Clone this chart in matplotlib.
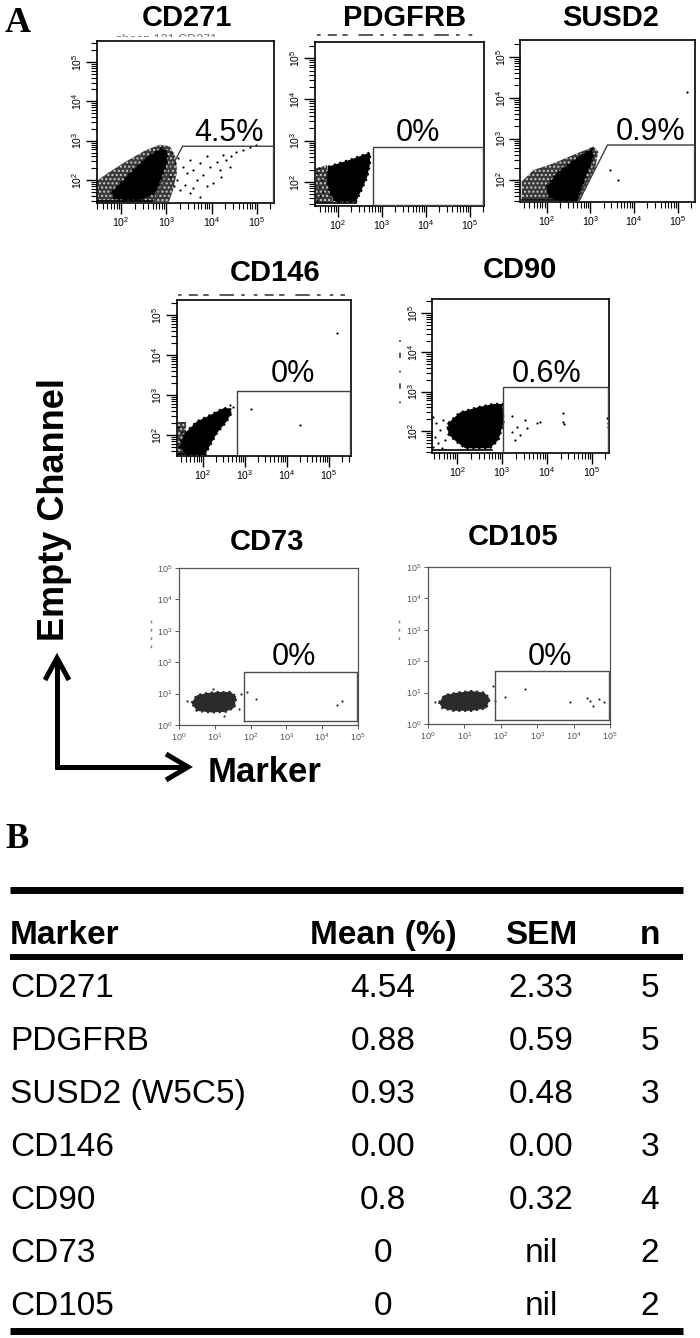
import numpy as np
import matplotlib
matplotlib.use("Agg")
import matplotlib.pyplot as plt
from matplotlib.lines import Line2D
from matplotlib.transforms import Bbox, TransformedBbox

# ---- panel A: markers and gated percentages ----
markers = ["CD271", "PDGFRB", "SUSD2", "CD146", "CD90", "CD73", "CD105"]
gated_pct = ["4.5%", "0%", "0.9%", "0%", "0.6%", "0%", "0%"]

# all event coordinates below are log10(marker), log10(empty channel)
# dense event cores (outline of the black cloud)
cd271_core_x = [1.80, 2.02, 2.27, 2.60, 2.90, 3.02, 3.01, 2.90, 2.75, 2.42, 2.13, 1.85]
cd271_core_y = [1.70, 1.95, 2.26, 2.60, 2.81, 2.72, 2.43, 2.09, 1.67, 1.50, 1.50, 1.52]
pdgfrb_core_x = [1.78, 2.01, 2.31, 2.58, 2.73, 2.73, 2.67, 2.54, 2.41, 1.94, 1.82, 1.75]
pdgfrb_core_y = [2.37, 2.45, 2.55, 2.66, 2.71, 2.45, 2.13, 1.81, 1.52, 1.52, 1.73, 2.05]
susd2_core_x = [2.00, 2.23, 2.53, 2.80, 3.03, 3.07, 2.95, 2.80, 2.69, 2.30, 2.04]
susd2_core_y = [1.83, 2.16, 2.40, 2.61, 2.75, 2.57, 2.24, 1.83, 1.49, 1.49, 1.59]
cd146_core_x = [1.57, 1.85, 2.17, 2.48, 2.64, 2.68, 2.56, 2.33, 2.17, 2.05, 1.61, 1.45]
cd146_core_y = [2.05, 2.34, 2.50, 2.67, 2.67, 2.55, 2.34, 2.05, 1.75, 1.51, 1.51, 1.71]
cd90_core_x = [1.80, 2.06, 2.44, 2.81, 3.01, 3.03, 2.92, 2.73, 2.18, 1.98, 1.80]
cd90_core_y = [2.20, 2.47, 2.60, 2.69, 2.69, 2.20, 1.77, 1.56, 1.56, 1.73, 1.92]
cd73_core_x = [0.35, 0.50, 0.80, 1.10, 1.45, 1.60, 1.55, 1.30, 0.90, 0.50]
cd73_core_y = [0.70, 0.95, 1.02, 1.05, 1.05, 0.90, 0.55, 0.42, 0.40, 0.45]
cd105_core_x = [0.30, 0.45, 0.80, 1.20, 1.55, 1.70, 1.60, 1.20, 0.70, 0.40]
cd105_core_y = [0.68, 0.92, 1.00, 1.05, 1.00, 0.80, 0.50, 0.42, 0.42, 0.50]

# looser speckled halo round the cores
cd271_fringe_x = [1.49, 1.49, 1.71, 2.09, 2.53, 2.86, 3.08, 3.20, 3.24, 3.15, 3.06]
cd271_fringe_y = [1.45, 2.00, 2.18, 2.46, 2.75, 2.90, 2.86, 2.60, 2.22, 1.75, 1.45]
pdgfrb_fringe_x = [1.50, 1.75, 1.90, 1.50]
pdgfrb_fringe_y = [2.33, 2.41, 1.50, 1.50]
susd2_fringe_x = [1.43, 1.43, 1.70, 2.15, 2.61, 3.07, 3.18, 3.10, 2.76]
susd2_fringe_y = [1.51, 1.96, 2.24, 2.40, 2.61, 2.81, 2.69, 2.24, 1.49]
cd146_fringe_x = [1.41, 1.60, 1.60, 1.41]
cd146_fringe_y = [2.34, 2.34, 1.51, 1.51]

# single scattered events
cd271_dots_x = [3.12, 3.19, 3.27, 3.38, 3.45, 3.52, 3.60, 3.67, 3.74, 3.82, 3.89,
                3.96, 4.04, 4.11, 4.19, 4.26, 4.33, 4.41, 4.55, 4.70, 4.85, 3.16,
                3.30, 3.52, 3.74, 3.23, 3.41, 3.08, 3.89, 3.60, 4.22, 4.44, 4.99]
cd271_dots_y = [2.68, 2.43, 2.55, 2.34, 2.17, 2.51, 2.26, 2.00, 2.43, 2.13, 2.60,
                2.34, 1.92, 2.47, 2.26, 2.64, 2.51, 2.34, 2.72, 2.77, 2.85, 1.84,
                1.75, 1.67, 1.58, 2.00, 1.88, 2.09, 1.84, 1.79, 2.09, 2.60, 2.89]
pdgfrb_dots_x = [1.52, 1.56, 1.59, 1.63, 1.53, 1.67, 1.58]
pdgfrb_dots_y = [2.21, 1.89, 1.65, 2.05, 1.57, 1.77, 2.33]
susd2_dots_x = [3.45, 3.64, 5.20]
susd2_dots_y = [2.24, 2.00, 4.15]
cd146_dots_x = [1.41, 1.44, 1.45, 1.49, 1.43, 2.72, 2.64, 3.14, 4.31, 5.18]
cd146_dots_y = [2.21, 1.88, 1.55, 2.09, 1.71, 2.71, 2.75, 2.64, 2.25, 4.54]
cd90_dots_x = [1.47, 1.54, 1.51, 1.62, 1.69, 1.58, 1.73, 1.66, 1.77, 1.47,
               3.21, 3.33, 3.40, 3.51, 3.55, 3.85, 3.21, 4.35, 4.35, 4.37,
               5.33, 5.35, 5.35, 3.29, 3.77]
cd90_dots_y = [2.36, 2.20, 1.86, 2.03, 2.28, 1.69, 1.77, 1.56, 2.11, 1.60,
               2.37, 2.11, 1.90, 2.28, 2.07, 2.24, 1.98, 2.45, 2.24, 2.18,
               2.32, 2.11, 2.20, 1.77, 2.20]
cd73_dots_x = [0.22, 1.72, 1.68, 1.89, 2.15, 4.54, 4.42, 0.95, 1.25]
cd73_dots_y = [0.75, 1.00, 0.50, 1.06, 0.82, 0.77, 0.64, 1.15, 0.30]
cd105_dots_x = [2.12, 2.66, 3.90, 4.36, 4.45, 4.54, 4.69, 4.83, 1.79, 1.85, 0.20]
cd105_dots_y = [0.85, 1.11, 0.69, 0.82, 0.74, 0.58, 0.80, 0.71, 1.22, 0.72, 0.70]

# events piled up on the axis floor (x from, x to, y)
cd271_floor = [1.49, 2.70, 1.47]
pdgfrb_floor = [1.50, 2.42, 1.49]
susd2_floor = [1.43, 2.70, 1.50]
cd146_floor = [1.41, 2.05, 1.52]
cd90_floor = [1.46, 2.78, 1.52]

# positive gates
cd271_gate_x = [2.71, 3.36, 5.37, 5.37]
cd271_gate_y = [1.43, 2.86, 2.86, 1.43]
pdgfrb_gate_x = [2.80, 2.80, 5.30, 5.30, 2.80]
pdgfrb_gate_y = [1.44, 2.85, 2.85, 1.44, 1.44]
susd2_gate_x = [2.73, 3.39, 5.38, 5.38]
susd2_gate_y = [1.47, 2.85, 2.85, 1.47]
cd146_gate_x = [2.80, 2.80, 5.50, 5.50, 2.80]
cd146_gate_y = [1.49, 3.11, 3.11, 1.49, 1.49]
cd90_gate_x = [3.02, 3.02, 5.36, 5.36, 3.02]
cd90_gate_y = [1.45, 3.12, 3.12, 1.45, 1.45]
cd73_gate_x = [1.82, 1.82, 4.97, 4.97, 1.82]
cd73_gate_y = [0.13, 1.69, 1.69, 0.13, 0.13]
cd105_gate_x = [1.84, 1.84, 4.97, 4.97, 1.84]
cd105_gate_y = [0.13, 1.69, 1.69, 0.13, 0.13]

# ---- panel B: summary table ----
table_header = ["Marker", "Mean (%)", "SEM", "n"]
table_markers = ["CD271", "PDGFRB", "SUSD2 (W5C5)", "CD146", "CD90", "CD73", "CD105"]
table_mean = ["4.54", "0.88", "0.93", "0.00", "0.8", "0", "0"]
table_sem = ["2.33", "0.59", "0.48", "0.00", "0.32", "nil", "nil"]
table_n = ["5", "5", "3", "3", "4", "2", "2"]


plt.rcParams["font.family"] = "Liberation Sans"
plt.rcParams["mathtext.fontset"] = "custom"
plt.rcParams["mathtext.rm"] = "Liberation Sans"
plt.rcParams["hatch.linewidth"] = 1.0

W, H = 700, 1338
fig = plt.figure(figsize=(W / 100, H / 100), dpi=100)


def add_box(l, t, r, b):
    return fig.add_axes([l / W, 1 - b / H, (r - l) / W, (b - t) / H])


def arr(v):
    return 10 ** np.asarray(v, dtype=float)


# layout: pixel box, log limits, title centre, percentage anchor, style
layout = {
    "CD271": ((97, 41, 274, 203), (1.47, 5.38), (1.42, 5.53), (187, 18), (229, 141), "flow"),
    "PDGFRB": ((315, 42, 484, 206), (1.48, 5.32), (1.42, 5.39), (405, 18), (418, 141), "flow"),
    "SUSD2": ((520, 40, 695, 202), (1.39, 5.39), (1.46, 5.41), (611, 18), (651, 140), "flow"),
    "CD146": ((177, 300, 351, 456), (1.38, 5.52), (1.48, 5.37), (275, 273), (293, 382), "flow"),
    "CD90": ((432, 299, 609, 453), (1.44, 5.38), (1.44, 5.36), (520, 270), (547, 382), "flow"),
    "CD73": ((179, 568, 358, 725), (0, 5), (0, 5), (267, 542), (294, 665), "grey"),
    "CD105": ((428, 567, 610, 724), (0, 5), (0, 5), (513, 537), (550, 665), "grey"),
}

cores = {"CD271": (cd271_core_x, cd271_core_y), "PDGFRB": (pdgfrb_core_x, pdgfrb_core_y),
         "SUSD2": (susd2_core_x, susd2_core_y), "CD146": (cd146_core_x, cd146_core_y),
         "CD90": (cd90_core_x, cd90_core_y), "CD73": (cd73_core_x, cd73_core_y),
         "CD105": (cd105_core_x, cd105_core_y)}
fringes = {"CD271": (cd271_fringe_x, cd271_fringe_y), "PDGFRB": (pdgfrb_fringe_x, pdgfrb_fringe_y),
           "SUSD2": (susd2_fringe_x, susd2_fringe_y), "CD146": (cd146_fringe_x, cd146_fringe_y)}
dots = {"CD271": (cd271_dots_x, cd271_dots_y), "PDGFRB": (pdgfrb_dots_x, pdgfrb_dots_y),
        "SUSD2": (susd2_dots_x, susd2_dots_y), "CD146": (cd146_dots_x, cd146_dots_y),
        "CD90": (cd90_dots_x, cd90_dots_y), "CD73": (cd73_dots_x, cd73_dots_y),
        "CD105": (cd105_dots_x, cd105_dots_y)}
floors = {"CD271": cd271_floor, "PDGFRB": pdgfrb_floor, "SUSD2": susd2_floor,
          "CD146": cd146_floor, "CD90": cd90_floor}
gates = {"CD271": (cd271_gate_x, cd271_gate_y), "PDGFRB": (pdgfrb_gate_x, pdgfrb_gate_y),
         "SUSD2": (susd2_gate_x, susd2_gate_y), "CD146": (cd146_gate_x, cd146_gate_y),
         "CD90": (cd90_gate_x, cd90_gate_y), "CD73": (cd73_gate_x, cd73_gate_y),
         "CD105": (cd105_gate_x, cd105_gate_y)}

for name in markers:
    box, xl, yl, tpos, ppos, style = layout[name]
    ax = add_box(*box)
    ax.set_xscale("log")
    ax.set_yscale("log")
    grey = style == "grey"
    ink = "#2b2b2b" if grey else "k"

    if name in fringes:
        # dark speckle: dark fill broken up by light hatch dots
        fx, fy = fringes[name]
        ax.fill(arr(fx), arr(fy), facecolor="0.22", edgecolor="0.8",
                hatch="....", lw=0, zorder=1)
    cx, cy = cores[name]
    ax.fill(arr(cx), arr(cy), facecolor=ink, edgecolor=ink, lw=1.6, ls=":", zorder=2)
    if name in floors:
        x0, x1, y0 = floors[name]
        ax.plot(arr([x0, x1]), arr([y0, y0]), color="k", lw=1.2, zorder=2)
    dx, dy = dots[name]
    ax.scatter(arr(dx), arr(dy), s=2.5, color=ink, lw=0, zorder=3)
    gx, gy = gates[name]
    ax.plot(arr(gx), arr(gy), color="0.3" if grey else "0.25", lw=1.0, zorder=4)

    ax.set_xlim(arr(xl))
    ax.set_ylim(arr(yl))

    if grey:
        ax.minorticks_off()
        ax.set_xticks(arr([0, 1, 2, 3, 4, 5]))
        ax.set_yticks(arr([0, 1, 2, 3, 4, 5]))
        ax.tick_params(which="major", direction="out", length=3, width=0.7,
                       labelsize=6.5, colors="#555555", pad=1.5)
        for sp in ax.spines.values():
            sp.set_color("#555555")
            sp.set_linewidth(0.9)
    else:
        ax.set_xticks(arr([2, 3, 4, 5]))
        ax.set_yticks(arr([2, 3, 4, 5]))
        ax.tick_params(which="both", direction="out", labelsize=7.5, pad=1)
        ax.tick_params(which="major", length=8, width=1.0)
        ax.tick_params(which="minor", length=4, width=0.8)
        ax.tick_params(axis="y", labelrotation=90)
        for lab in ax.get_yticklabels():
            lab.set_va("center")
        for sp in ax.spines.values():
            sp.set_linewidth(1.2)

# overlay in pixel units for labels, arrows and the table (drawn on top)
ov = fig.add_axes([0, 0, 1, 1], zorder=10)
ov.set_xlim(0, W)
ov.set_ylim(H, 0)
ov.axis("off")

for name, pct in zip(markers, gated_pct):
    box, xl, yl, tpos, ppos, style = layout[name]
    ov.text(tpos[0], tpos[1], name, ha="center", va="center",
            fontsize=21, fontweight="bold")
    ov.text(ppos[0], ppos[1], pct, ha="center", va="baseline", fontsize=22)

# remnants of the original instrument headers
remnant = fig.text(167 / W, 1 - 43 / H, "sheep 121 CD271", ha="center",
                   va="baseline", fontsize=9, color="0.45")
remnant.set_clip_box(TransformedBbox(Bbox.from_extents(0, 1 - 37 / H, 1, 1 - 28 / H),
                                     fig.transFigure))
remnant.set_clip_on(True)
ov.add_line(Line2D([317, 477], [35, 35], color="0.3", lw=1.3,
                   dashes=(2, 4, 5, 3, 3, 6, 8, 4, 2, 5)))
ov.add_line(Line2D([178, 345], [295, 295], color="0.3", lw=1.3,
                   dashes=(2, 4, 5, 3, 3, 6, 8, 4, 2, 5)))
ov.add_line(Line2D([400, 400], [340, 413], color="0.3", lw=1.3, dashes=(1, 6, 3, 7)))
ov.add_line(Line2D([151, 151], [620, 650], color="0.5", lw=1.0, dashes=(2, 4)))
ov.add_line(Line2D([399, 399], [620, 645], color="0.5", lw=1.0, dashes=(2, 4)))

# panel letters
ov.text(5, 32, "A", ha="left", va="baseline", fontsize=26, fontweight="bold",
        family="Liberation Serif")
ov.text(5, 848, "B", ha="left", va="baseline", fontsize=25, fontweight="bold",
        family="Liberation Serif")

# axis key
ov.text(55, 510, "Empty Channel", rotation=90, ha="center", va="center",
        fontsize=26, fontweight="bold")
ov.text(208, 782, "Marker", ha="left", va="baseline", fontsize=25, fontweight="bold")
arrow_kw = dict(color="k", lw=3.6, solid_capstyle="butt", solid_joinstyle="miter")
ov.plot([57, 57], [769, 659], **arrow_kw)
ov.plot([45, 57, 69], [680, 658, 680], **arrow_kw)
ov.plot([55, 187], [767, 767], **arrow_kw)
ov.plot([166, 188, 166], [754, 767, 780], **arrow_kw)

# table
rule_l, rule_r = 10, 683
ov.plot([rule_l, rule_r], [890, 890], color="k", lw=5.0, solid_capstyle="butt")
ov.plot([rule_l, rule_r], [957, 957], color="k", lw=4.3, solid_capstyle="butt")
ov.plot([rule_l, rule_r], [1331, 1331], color="k", lw=5.0, solid_capstyle="butt")
col_x = [10, 383, 541, 650]
col_ha = ["left", "center", "center", "center"]
for j, h in enumerate(table_header):
    ov.text(col_x[j], 944, h, ha=col_ha[j], va="baseline", fontsize=24, fontweight="bold")
for i, row in enumerate(zip(table_markers, table_mean, table_sem, table_n)):
    yb = 997 + 53 * i
    for j, cell in enumerate(row):
        ov.text(col_x[j], yb, cell, ha=col_ha[j], va="baseline", fontsize=24)

fig.savefig("out.png", dpi=100)
